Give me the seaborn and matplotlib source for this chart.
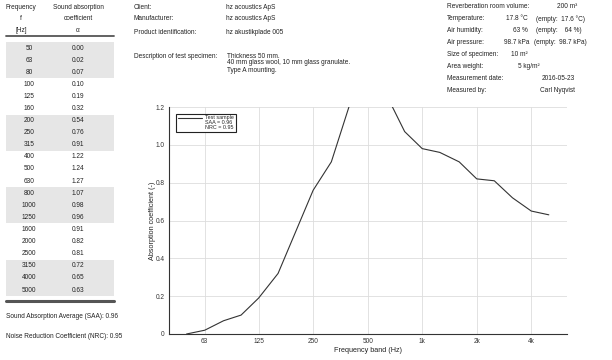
import matplotlib
matplotlib.use("Agg")
import matplotlib.pyplot as plt
import seaborn as sns
import pandas as pd
from matplotlib.patches import Rectangle
from matplotlib.lines import Line2D

# ---------------- data ----------------
freqs = [50, 63, 80, 100, 125, 160, 200, 250, 315, 400, 500, 630,
         800, 1000, 1250, 1600, 2000, 2500, 3150, 4000, 5000]
alpha = [0.00, 0.02, 0.07, 0.10, 0.19, 0.32, 0.54, 0.76, 0.91, 1.22, 1.24, 1.27,
         1.07, 0.98, 0.96, 0.91, 0.82, 0.81, 0.72, 0.65, 0.63]
freq_labels = [str(f) for f in freqs]
alpha_labels = ["%.2f" % a for a in alpha]
xtick_vals = [63, 125, 250, 500, 1000, 2000, 4000]
xtick_labels = ["63", "125", "250", "500", "1k", "2k", "4k"]
ytick_vals = [0, 0.2, 0.4, 0.6, 0.8, 1.0, 1.2]
ytick_labels = ["0", "0.2", "0.4", "0.6", "0.8", "1.0", "1.2"]
saa = 0.96
nrc = 0.95

left_labels = ["Client:", "Manufacturer:", "Product identification:", "Description of test specimen:"]
left_values = ["hz acoustics ApS", "hz acoustics ApS", "hz akustikplade 005"]
desc_lines = ["Thickness 50 mm.", "40 mm glass wool, 10 mm glass granulate.", "Type A mounting."]
right_labels = ["Reverberation room volume:", "Temperature:", "Air humidity:", "Air pressure:",
                "Size of specimen:", "Area weight:", "Measurement date:", "Measured by:"]

# ---------------- figure ----------------
sns.set_style("white")
plt.rcParams['font.family'] = ['Liberation Sans', 'DejaVu Sans']
W, H = 612, 360
fig = plt.figure(figsize=(W / 100, H / 100), dpi=100)
fig.patch.set_facecolor("white")

FS = 4.7
TXT = "#222222"


def ft(x, y, s, ha="left", size=FS, **kw):
    fig.text(x / W, 1 - y / H, s, ha=ha, va="center", fontsize=size, color=TXT, **kw)


def rect(x0, y0, x1, y1, color):
    fig.add_artist(Rectangle((x0 / W, 1 - y1 / H), (x1 - x0) / W, (y1 - y0) / H,
                             transform=fig.transFigure, facecolor=color, edgecolor="none", zorder=0))


def hline(x0, x1, y, color, lw):
    fig.add_artist(Line2D([x0 / W, x1 / W], [1 - y / H, 1 - y / H], transform=fig.transFigure,
                          color=color, lw=lw))


# ---- left table ----
row0, step = 48.0, 12.1
for g in [0, 6, 12, 18]:
    rect(6, row0 + g * step - step / 2, 114, row0 + (g + 2) * step + step / 2, "#e6e6e6")
ft(21, 7.5, "Frequency", ha="center")
ft(21, 19, "f", ha="center")
ft(21, 30, "[Hz]", ha="center")
ft(78, 7.5, "Sound absorption", ha="center")
ft(78, 19, "coefficient", ha="center")
ft(78, 30, "\u03b1", ha="center")
hline(6, 114, 36, "#555555", 1.3)
for i, (fl, al) in enumerate(zip(freq_labels, alpha_labels)):
    y = row0 + i * step
    ft(29, y, fl, ha="center")
    ft(78, y, al, ha="center")
hline(6, 114, 301, "#555555", 2.2)
ft(6, 317, "Sound Absorption Average (SAA): %.2f" % saa)
ft(6, 336, "Noise Reduction Coefficient (NRC): %.2f" % nrc)

# ---- header middle ----
for lab, y in zip(left_labels, [7.5, 19, 33, 57]):
    ft(134, y, lab)
for val, y in zip(left_values, [7.5, 19, 33]):
    ft(226, y, val)
for line, y in zip(desc_lines, [56, 63, 70]):
    ft(227, y, line)

# ---- header right ----
ry = [7, 19, 31, 43, 55, 67, 79, 91]
for lab, y in zip(right_labels, ry):
    ft(447, y, lab)
ft(577, 7, "200 m\u00b3", ha="right")
ft(528, 19, "17.8 \u00b0C", ha="right")
ft(536, 19, "(empty:  17.6 \u00b0C)")
ft(528, 31, "63 %", ha="right")
ft(536, 31, "(empty:    64 %)")
ft(530, 43, "98.7 kPa", ha="right")
ft(534, 43, "(empty:  98.7 kPa)")
ft(511, 55, "10 m\u00b2")
ft(518, 67, "5 kg/m\u00b2")
ft(575, 79, "2016-05-23", ha="right")
ft(575, 91, "Carl Nyqvist", ha="right")

# ---- chart ----
ax = fig.add_axes([169 / W, 1 - 334 / H, (567 - 169) / W, (334 - 107) / H])
df = pd.DataFrame({"Frequency": freqs, "Alpha": alpha})
sns.lineplot(data=df, x="Frequency", y="Alpha", ax=ax, color="#333333", lw=0.8,
             label="Test sample")
ax.set_xscale("log")
ax.set_xlim(40, 6300)
ax.set_ylim(0, 1.2)
ax.set_xticks(xtick_vals)
ax.set_xticklabels(xtick_labels)
ax.minorticks_off()
ax.set_yticks(ytick_vals)
ax.set_yticklabels(ytick_labels)
ax.grid(True, color="#dddddd", lw=0.6)
ax.set_axisbelow(True)
for s in ["top", "right"]:
    ax.spines[s].set_visible(False)
for s in ["left", "bottom"]:
    ax.spines[s].set_color("#333333")
    ax.spines[s].set_linewidth(0.8)
ax.tick_params(axis="both", labelsize=FS, colors="#333333", length=2, width=0.5, direction="in", pad=3)
ax.set_xlabel("Frequency band (Hz)", fontsize=5.2, color=TXT, labelpad=1)
ax.set_ylabel("Absorption coefficient (-)", fontsize=5.2, color=TXT, labelpad=0)

handles, labels = ax.get_legend_handles_labels()
handles += [Line2D([], [], lw=0), Line2D([], [], lw=0)]
labels += ["SAA = %.2f" % saa, "NRC = %.2f" % nrc]
leg = ax.legend(handles, labels, loc="upper left", bbox_to_anchor=(0.018, 0.97),
                fontsize=3.9, frameon=True, fancybox=False, framealpha=1,
                edgecolor="#222222", labelspacing=0.0, handlelength=4.5,
                handletextpad=0.6, borderpad=0.3, borderaxespad=0)
leg.get_frame().set_linewidth(0.8)

fig.savefig("out.png", dpi=100)
